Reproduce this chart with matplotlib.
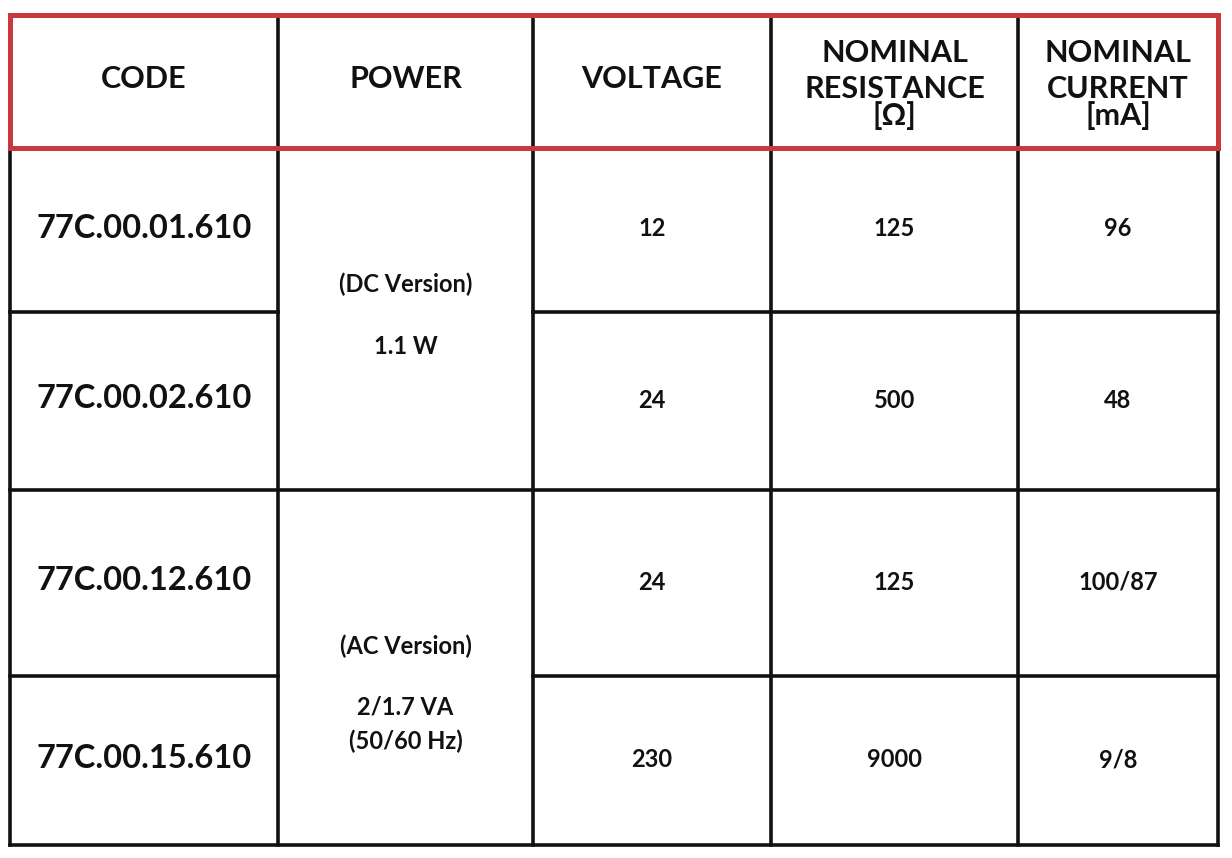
import matplotlib.pyplot as plt

# table content
headers = ["CODE", "POWER", "VOLTAGE", "NOMINAL\nRESISTANCE\n[Ω]", "NOMINAL\nCURRENT\n[mA]"]
codes = ["77C.00.01.610", "77C.00.02.610", "77C.00.12.610", "77C.00.15.610"]
power = [["(DC Version)", "1.1 W"], ["(AC Version)", "2/1.7 VA", "(50/60 Hz)"]]
voltage = ["12", "24", "24", "230"]
resistance = ["125", "500", "125", "9000"]
current = ["96", "48", "100/87", "9/8"]

# layout in pixels
col_edges = [10, 278, 533, 771, 1018, 1218]
row_edges = [15, 148, 312, 490, 676, 845]
head_line_y = [53, 89, 116]
power_line_y = [[284, 347], [646, 707, 741]]

W, H = 1232, 858
fig = plt.figure(figsize=(W / 100, H / 100), dpi=100)
ax = fig.add_axes([0, 0, 1, 1])
ax.set_xlim(0, W)
ax.set_ylim(H, 0)
ax.axis('off')

font = 'Lato'
black = '#111111'
red = '#c8393d'
lw = 2.6

top, head_bot, bot = row_edges[0], row_edges[1], row_edges[-1]

# vertical lines
for x in col_edges:
    ax.plot([x, x], [top, bot], color=black, lw=lw, solid_capstyle='projecting', zorder=2)

# horizontal lines (rows 1/2 and 3/4 skip merged power column)
for i, y in enumerate(row_edges[2:], start=2):
    if i in (2, 4):
        ax.plot([col_edges[0], col_edges[1]], [y, y], color=black, lw=lw, zorder=2)
        ax.plot([col_edges[2], col_edges[-1]], [y, y], color=black, lw=lw, zorder=2)
    else:
        ax.plot([col_edges[0], col_edges[-1]], [y, y], color=black, lw=lw,
                solid_capstyle='projecting', zorder=2)

# red header box
ax.plot([col_edges[0], col_edges[-1], col_edges[-1], col_edges[0], col_edges[0]],
        [top, top, head_bot, head_bot, top], color=red, lw=3.6,
        solid_joinstyle='miter', zorder=3)

# header texts
for i, h in enumerate(headers):
    cx = (col_edges[i] + col_edges[i + 1]) / 2
    lines = h.split("\n")
    if len(lines) == 1:
        ax.text(cx, 79, h, ha='center', va='center', fontsize=22,
                fontfamily=font, fontweight='bold', color=black)
    else:
        for txt, y in zip(lines, head_line_y):
            ax.text(cx, y, txt, ha='center', va='center', fontsize=22,
                    fontfamily=font, fontweight='bold', color=black)

# body rows
for r in range(4):
    cy = (row_edges[r + 1] + row_edges[r + 2]) / 2
    cx0 = (col_edges[0] + col_edges[1]) / 2
    ax.text(cx0, cy - 2, codes[r], ha='center', va='center', fontsize=23.5,
            fontfamily=font, fontweight='bold', color=black)
    for c, vals in zip([2, 3, 4], [voltage, resistance, current]):
        cx = (col_edges[c] + col_edges[c + 1]) / 2
        ax.text(cx, cy - 1, vals[r], ha='center', va='center', fontsize=17,
                fontfamily=font, fontweight='bold', color=black)

# merged power cells
pcx = (col_edges[1] + col_edges[2]) / 2
for lines, ys in zip(power, power_line_y):
    for txt, y in zip(lines, ys):
        ax.text(pcx, y, txt, ha='center', va='center', fontsize=17,
                fontfamily=font, fontweight='bold', color=black)

plt.savefig("out.png", dpi=100)
